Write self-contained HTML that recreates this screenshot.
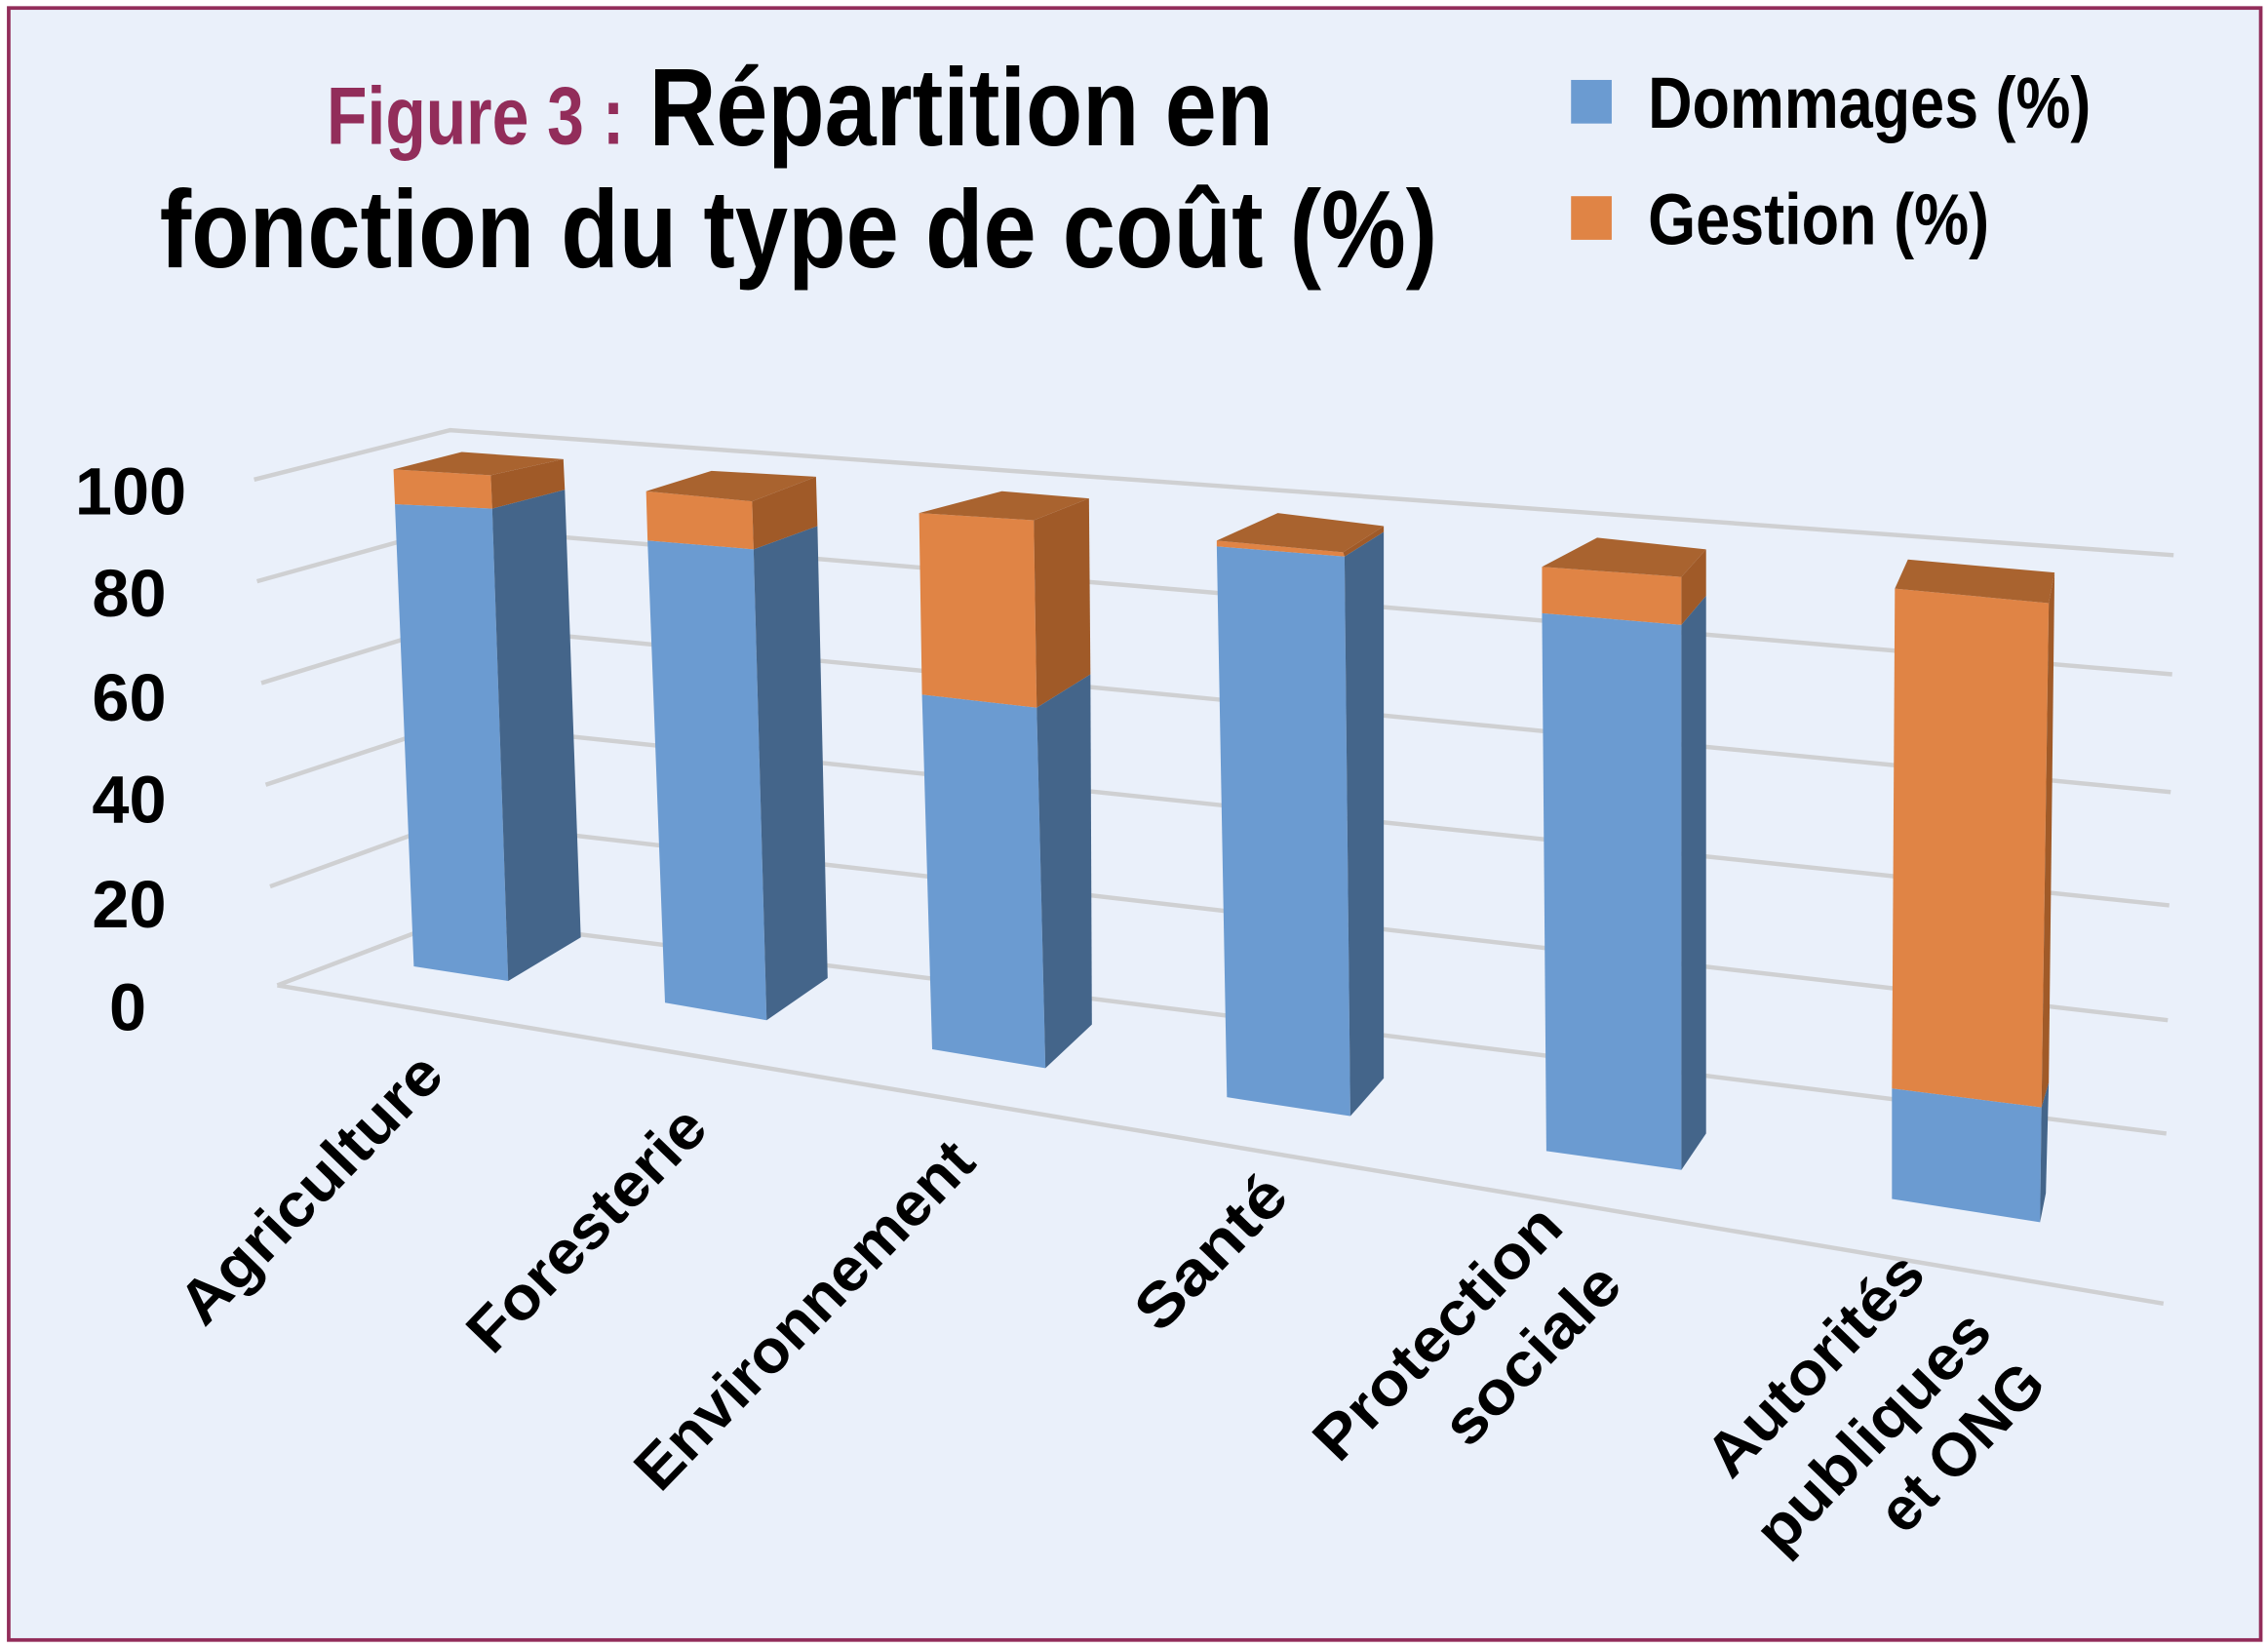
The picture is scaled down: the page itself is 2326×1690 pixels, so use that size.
<!DOCTYPE html>
<html><head><meta charset="utf-8"><style>
html,body{margin:0;padding:0;background:#fff;}
svg{display:block;}
</style></head><body>
<svg width="2326" height="1690" viewBox="0 0 1562 1134" preserveAspectRatio="none" xmlns="http://www.w3.org/2000/svg">
<rect x="0" y="0" width="1562" height="1134" fill="#ffffff"/>
<rect x="6" y="5.5" width="1551" height="1123" fill="#eaf0fa" stroke="#922d5a" stroke-width="2.5"/>

<!-- Title -->
<text x="225" y="99" font-family="'Liberation Sans Narrow','Liberation Sans',sans-serif" font-weight="bold" font-size="56" fill="#922d5a" textLength="205" lengthAdjust="spacingAndGlyphs">Figure 3 :</text>
<text x="447" y="100" font-family="'Liberation Sans Narrow','Liberation Sans',sans-serif" font-weight="bold" font-size="76" fill="#000" textLength="430" lengthAdjust="spacingAndGlyphs">Répartition en</text>
<text x="110" y="184" font-family="'Liberation Sans Narrow','Liberation Sans',sans-serif" font-weight="bold" font-size="76" fill="#000" textLength="880" lengthAdjust="spacingAndGlyphs">fonction du type de coût (%)</text>

<!-- Legend -->
<rect x="1082" y="55" width="28" height="30" fill="#6b9bd1"/>
<text x="1135" y="88" font-family="'Liberation Sans Narrow','Liberation Sans',sans-serif" font-weight="bold" font-size="50" fill="#000" textLength="305" lengthAdjust="spacingAndGlyphs">Dommages (%)</text>
<rect x="1082" y="135" width="28" height="30" fill="#e08445"/>
<text x="1135" y="168" font-family="'Liberation Sans Narrow','Liberation Sans',sans-serif" font-weight="bold" font-size="50" fill="#000" textLength="235" lengthAdjust="spacingAndGlyphs">Gestion (%)</text>

<!-- Y tick labels -->
<g font-family="'Liberation Sans',sans-serif" font-weight="bold" font-size="46" fill="#000" text-anchor="middle">
<text x="90" y="354">100</text>
<text x="89" y="424">80</text>
<text x="89" y="496">60</text>
<text x="89" y="566">40</text>
<text x="89" y="638">20</text>
<text x="88" y="709">0</text>
</g>

<!-- Gridlines -->
<g stroke="#cfd0d2" stroke-width="3" fill="none">
<polyline points="175,330 310,296 1497,382"/>
<polyline points="177,400 310,363 1496,464"/>
<polyline points="180,470 310,430 1495,545"/>
<polyline points="183,540 310,498 1494,623"/>
<polyline points="186,610 310,565 1493,702"/>
<polyline points="191,678 312,632 1492,780"/>
<line x1="191" y1="678" x2="1490" y2="897"/>
</g>

<!-- Bars -->
<g stroke="none">
<!-- Bar1 -->
<polygon points="271,323 338,327 339,350 272,347" fill="#e08445"/>
<polygon points="272,347 339,350 350,675 285,665" fill="#6b9bd1"/>
<polygon points="338,327 388,316 389,337 339,350" fill="#a05a28"/>
<polygon points="339,350 389,337 400,645 350,675" fill="#44658a"/>
<polygon points="271,323 318,311 388,316 338,327" fill="#a9632f"/>
<!-- Bar2 -->
<polygon points="445,338 518,345 519,378 446,372" fill="#e08445"/>
<polygon points="446,372 519,378 528,702 458,690" fill="#6b9bd1"/>
<polygon points="518,345 562,328 563,362 519,378" fill="#a05a28"/>
<polygon points="519,378 563,362 570,673 528,702" fill="#44658a"/>
<polygon points="445,338 490,324 562,328 518,345" fill="#a9632f"/>
<!-- Bar3 -->
<polygon points="633,353 712,358 714,487 635,478" fill="#e08445"/>
<polygon points="635,478 714,487 720,735 642,722" fill="#6b9bd1"/>
<polygon points="712,358 750,343 751,464 714,487" fill="#a05a28"/>
<polygon points="714,487 751,464 752,705 720,735" fill="#44658a"/>
<polygon points="633,353 690,338 750,343 712,358" fill="#a9632f"/>
<!-- Bar4 -->
<polygon points="838,372 925,380 926,383 838,376" fill="#e08445"/>
<polygon points="838,376 926,383 930,768 845,755" fill="#6b9bd1"/>
<polygon points="925,380 953,362 953,366 926,383" fill="#a05a28"/>
<polygon points="926,383 953,366 953,742 930,768" fill="#44658a"/>
<polygon points="838,372 880,353 953,362 925,380" fill="#a9632f"/>
<!-- Bar5 -->
<polygon points="1062,390 1158,397 1158,430 1062,422" fill="#e08445"/>
<polygon points="1062,422 1158,430 1158,805 1065,792" fill="#6b9bd1"/>
<polygon points="1158,397 1175,378 1175,410 1158,430" fill="#a05a28"/>
<polygon points="1158,430 1175,410 1175,780 1158,805" fill="#44658a"/>
<polygon points="1062,390 1100,370 1175,378 1158,397" fill="#a9632f"/>
<!-- Bar6 -->
<polygon points="1305,405 1411,415 1406,762 1303,749" fill="#e08445"/>
<polygon points="1303,749 1406,762 1405,841 1303,825" fill="#6b9bd1"/>
<polygon points="1411,415 1415,394 1411,745 1406,762" fill="#a05a28"/>
<polygon points="1406,762 1411,745 1409,821 1405,841" fill="#44658a"/>
<polygon points="1305,405 1314,385 1415,394 1411,415" fill="#a9632f"/>
</g>

<!-- Category labels -->
<g font-family="'Liberation Sans',sans-serif" font-weight="bold" font-size="42" fill="#000" text-anchor="middle" dominant-baseline="central">
<text transform="translate(214,818) rotate(-46)" textLength="240" lengthAdjust="spacingAndGlyphs">Agriculture</text>
<text transform="translate(404,846) rotate(-46)" textLength="216" lengthAdjust="spacingAndGlyphs">Foresterie</text>
<text transform="translate(554,905) rotate(-46)" textLength="315" lengthAdjust="spacingAndGlyphs">Environnement</text>
<text transform="translate(834,862) rotate(-46)" textLength="130" lengthAdjust="spacingAndGlyphs">Santé</text>
<text transform="translate(990,917) rotate(-46)" textLength="225" lengthAdjust="spacingAndGlyphs">Protection</text>
<text transform="translate(1055,932) rotate(-46)" textLength="155" lengthAdjust="spacingAndGlyphs">sociale</text>
<text transform="translate(1250,939) rotate(-46)" textLength="195" lengthAdjust="spacingAndGlyphs">Autorités</text>
<text transform="translate(1290,985) rotate(-46)" textLength="212" lengthAdjust="spacingAndGlyphs">publiques</text>
<text transform="translate(1351,996) rotate(-46)" textLength="143" lengthAdjust="spacingAndGlyphs">et ONG</text>
</g>
</svg>
</body></html>
